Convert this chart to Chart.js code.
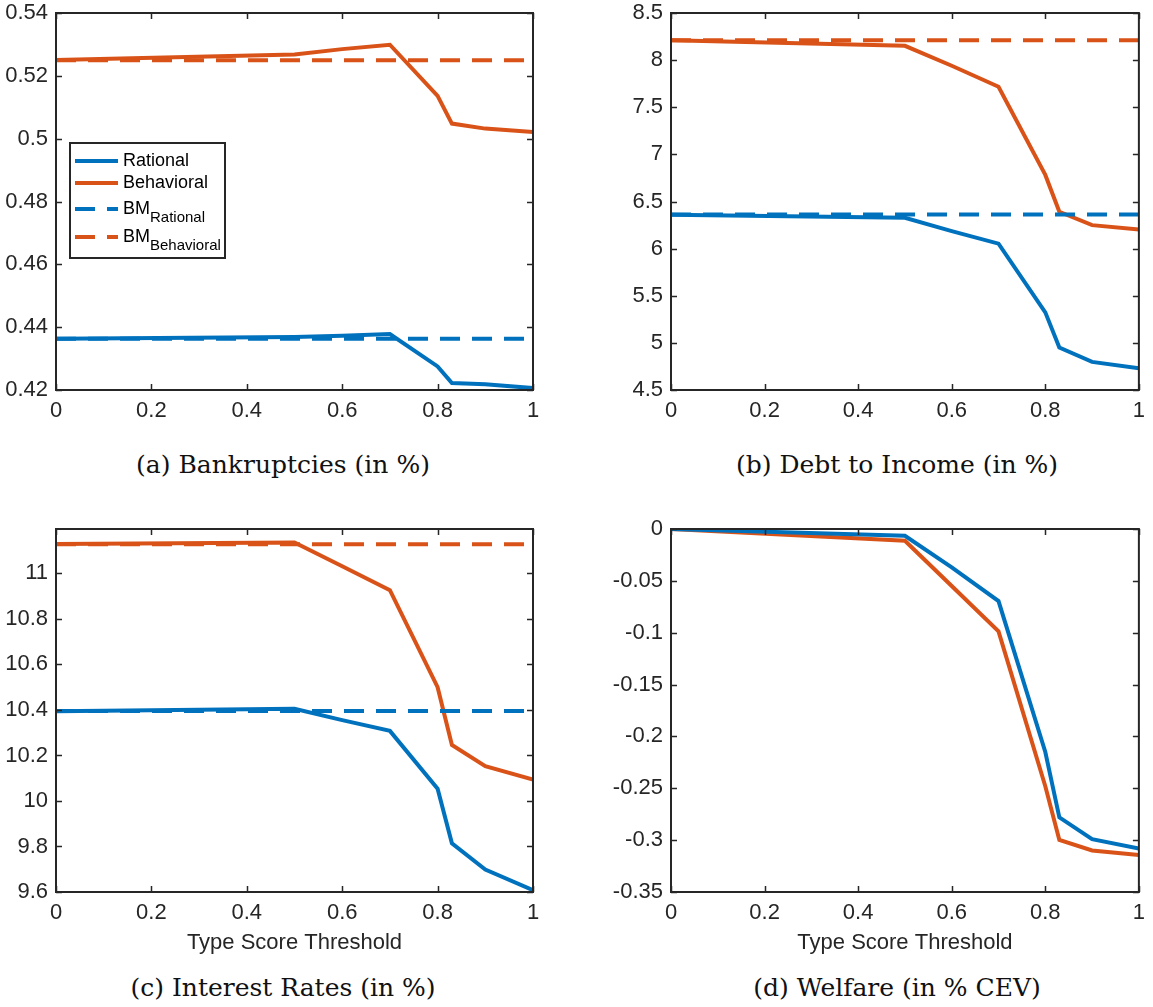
<!DOCTYPE html>
<html>
<head>
<meta charset="utf-8">
<script src="https://cdn.jsdelivr.net/npm/chart.js@4/dist/chart.umd.min.js"></script>
<style>
  body { margin: 0; background: #fff; }
  #page { position: relative; width: 1153px; height: 1007px; background: #fff; overflow: hidden; }
  .panel { position: absolute; }
  .caption {
    position: absolute;
    font-family: "DejaVu Serif", serif;
    font-size: 25px;
    line-height: 30px;
    color: #111;
    text-align: center;
  }
</style>
</head>
<body>
<div id="page">
  <div class="panel" style="left:0;top:-10px"><canvas id="bankChart" width="576" height="450"></canvas></div>
  <div class="panel" style="left:600px;top:-10px"><canvas id="debtChart" width="553" height="450"></canvas></div>
  <div class="panel" style="left:0;top:500px"><canvas id="rateChart" width="576" height="460"></canvas></div>
  <div class="panel" style="left:600px;top:500px"><canvas id="welfareChart" width="553" height="460"></canvas></div>

  <div class="caption" style="left:0;top:450px;width:566px">(a) Bankruptcies (in %)</div>
  <div class="caption" style="left:640px;top:450px;width:514px">(b) Debt to Income (in %)</div>
  <div class="caption" style="left:0;top:973px;width:566px">(c) Interest Rates (in %)</div>
  <div class="caption" style="left:640px;top:973px;width:514px">(d) Welfare (in % CEV)</div>
</div>

<script>
// * data
const thresholds = [0, 0.5, 0.6, 0.7, 0.8, 0.83, 0.9, 1];
const bmX = [0, 1];
const xTicks = [0, 0.2, 0.4, 0.6, 0.8, 1];

const bankRational = [0.4363, 0.4369, 0.4373, 0.4378, 0.4275, 0.4222, 0.4218, 0.4206];
const bankBehavioral = [0.525, 0.5268, 0.5285, 0.5299, 0.5136, 0.5048, 0.5032, 0.5021];
const bankBmRational = [0.4363, 0.4363];
const bankBmBehavioral = [0.525, 0.525];
const bankTicks = [0.42, 0.44, 0.46, 0.48, 0.5, 0.52, 0.54];

const debtRational = [6.36, 6.327, 6.185, 6.053, 5.324, 4.951, 4.798, 4.731];
const debtBehavioral = [8.21, 8.152, 7.94, 7.718, 6.782, 6.391, 6.249, 6.203];
const debtBmRational = [6.363, 6.363];
const debtBmBehavioral = [8.212, 8.212];
const debtTicks = [4.5, 5, 5.5, 6, 6.5, 7, 7.5, 8, 8.5];

const rateRational = [10.394, 10.405, 10.355, 10.308, 10.054, 9.814, 9.699, 9.608];
const rateBehavioral = [11.129, 11.136, 11.031, 10.926, 10.5, 10.246, 10.153, 10.094];
const rateBmRational = [10.395, 10.395];
const rateBmBehavioral = [11.128, 11.128];
const rateTicks = [9.6, 9.8, 10, 10.2, 10.4, 10.6, 10.8, 11];

const welfareRational = [0, -0.0065, -0.037, -0.0695, -0.215, -0.278, -0.299, -0.308];
const welfareBehavioral = [0, -0.0113, -0.055, -0.0987, -0.248, -0.2998, -0.31, -0.3144];
const welfareTicks = [-0.35, -0.3, -0.25, -0.2, -0.15, -0.1, -0.05, 0];

const legendNames = ["Rational", "Behavioral", "BM", "BM"];
const legendSubs = ["", "", "Rational", "Behavioral"];

const blue = "#0072BD";
const orange = "#D95319";
const axisColor = "#262626";
const sansFont = "'Liberation Sans', Arial, sans-serif";

Chart.defaults.font.family = sansFont;
Chart.defaults.font.size = 22;
Chart.defaults.color = axisColor;

const toPoints = (xs, ys) => xs.map((x, i) => ({ x: x, y: ys[i] }));

// ? box with inward ticks on every side, like matlab
const axesBox = {
  id: "axesBox",
  afterDatasetsDraw(chart) {
    const { ctx, chartArea: a, scales } = chart;
    const len = 6;
    ctx.save();
    ctx.strokeStyle = axisColor;
    ctx.lineWidth = 1.5;
    ctx.beginPath();
    scales.x.ticks.forEach((t) => {
      const px = Math.round(scales.x.getPixelForValue(t.value)) + 0.5;
      ctx.moveTo(px, a.bottom);
      ctx.lineTo(px, a.bottom - len);
      ctx.moveTo(px, a.top);
      ctx.lineTo(px, a.top + len);
    });
    scales.y.ticks.forEach((t) => {
      const py = Math.round(scales.y.getPixelForValue(t.value)) + 0.5;
      ctx.moveTo(a.left, py);
      ctx.lineTo(a.left + len, py);
      ctx.moveTo(a.right, py);
      ctx.lineTo(a.right - len, py);
    });
    ctx.stroke();
    ctx.lineWidth = 2;
    ctx.strokeRect(a.left, a.top, a.right - a.left, a.bottom - a.top);
    ctx.restore();
  },
};

// ? legend with subscripts, chart.js legend cannot do this
const subLegend = {
  id: "subLegend",
  afterDraw(chart, args, opts) {
    if (!opts.show) return;
    const { ctx, chartArea: a } = chart;
    const left = a.left + 14;
    const top = a.top + 130;
    const w = 155;
    const h = 115;
    const rows = [18, 40, 66, 94];
    ctx.save();
    ctx.fillStyle = "#fff";
    ctx.fillRect(left, top, w, h);
    ctx.strokeStyle = axisColor;
    ctx.lineWidth = 2;
    ctx.strokeRect(left, top, w, h);
    chart.data.datasets.forEach((ds, i) => {
      const y = top + rows[i];
      ctx.strokeStyle = ds.borderColor;
      ctx.lineWidth = ds.borderWidth;
      ctx.setLineDash(ds.borderDash || []);
      ctx.beginPath();
      ctx.moveTo(left + 5, y);
      ctx.lineTo(left + 48, y);
      ctx.stroke();
      ctx.setLineDash([]);
      ctx.fillStyle = "#000";
      ctx.textBaseline = "middle";
      ctx.font = "18px " + sansFont;
      ctx.fillText(legendNames[i], left + 53, y);
      if (legendSubs[i]) {
        const bw = ctx.measureText(legendNames[i]).width;
        ctx.font = "15px " + sansFont;
        ctx.fillText(legendSubs[i], left + 53 + bw, y + 9);
      }
    });
    ctx.restore();
  },
};

function makeDatasets(rational, behavioral, bmRational, bmBehavioral) {
  const sets = [
    { label: "Rational", data: toPoints(thresholds, rational), borderColor: blue, order: 2 },
    { label: "Behavioral", data: toPoints(thresholds, behavioral), borderColor: orange, order: 2 },
  ];
  if (bmRational) {
    sets.push({ label: "BM Rational", data: toPoints(bmX, bmRational), borderColor: blue, borderDash: [20, 12], order: 1 });
    sets.push({ label: "BM Behavioral", data: toPoints(bmX, bmBehavioral), borderColor: orange, borderDash: [20, 12], order: 1 });
  }
  return sets.map((s) => Object.assign({ showLine: true, pointRadius: 0, borderWidth: 4, tension: 0, clip: 0 }, s));
}

function makePanel(canvasId, datasets, yMin, yMax, yTicks, opts) {
  const canvas = document.getElementById(canvasId);
  return new Chart(canvas.getContext("2d"), {
    type: "scatter",
    data: { datasets: datasets },
    plugins: [axesBox, subLegend],
    options: {
      responsive: false,
      animation: false,
      events: [],
      layout: { padding: { top: opts.top, right: opts.right, left: 0, bottom: 0 } },
      plugins: {
        legend: { display: false },
        tooltip: { enabled: false },
        subLegend: { show: !!opts.legend },
      },
      scales: {
        x: {
          type: "linear",
          min: 0,
          max: 1,
          grid: { display: false, drawTicks: false },
          border: { display: false },
          afterBuildTicks: (s) => { s.ticks = xTicks.map((v) => ({ value: v })); },
          afterFit: (s) => { s.height = opts.xHeight; },
          ticks: { padding: 8, maxRotation: 0, callback: (v) => String(v) },
          title: {
            display: !!opts.xTitle,
            text: "Type Score Threshold",
            font: { size: 22 },
            padding: { top: 0, bottom: 4 },
          },
        },
        y: {
          type: "linear",
          min: yMin,
          max: yMax,
          grid: { display: false, drawTicks: false },
          border: { display: false },
          afterBuildTicks: (s) => { s.ticks = yTicks.map((v) => ({ value: v })); },
          afterFit: (s) => { s.width = opts.yWidth; },
          ticks: { padding: 8, callback: (v) => String(+v.toFixed(3)) },
        },
      },
    },
  });
}

makePanel("bankChart",
  makeDatasets(bankRational, bankBehavioral, bankBmRational, bankBmBehavioral),
  0.42, 0.54, bankTicks, { top: 23, right: 43, yWidth: 56, xHeight: 50, legend: true });

makePanel("debtChart",
  makeDatasets(debtRational, debtBehavioral, debtBmRational, debtBmBehavioral),
  4.5, 8.5, debtTicks, { top: 23, right: 6, yWidth: 71, xHeight: 50 });

makePanel("rateChart",
  makeDatasets(rateRational, rateBehavioral, rateBmRational, rateBmBehavioral),
  9.6, 11.195, rateTicks, { top: 29, right: 43, yWidth: 56, xHeight: 68, xTitle: true });

makePanel("welfareChart",
  makeDatasets(welfareRational, welfareBehavioral),
  -0.35, 0, welfareTicks, { top: 29, right: 6, yWidth: 71, xHeight: 68, xTitle: true });
</script>
</body>
</html>
